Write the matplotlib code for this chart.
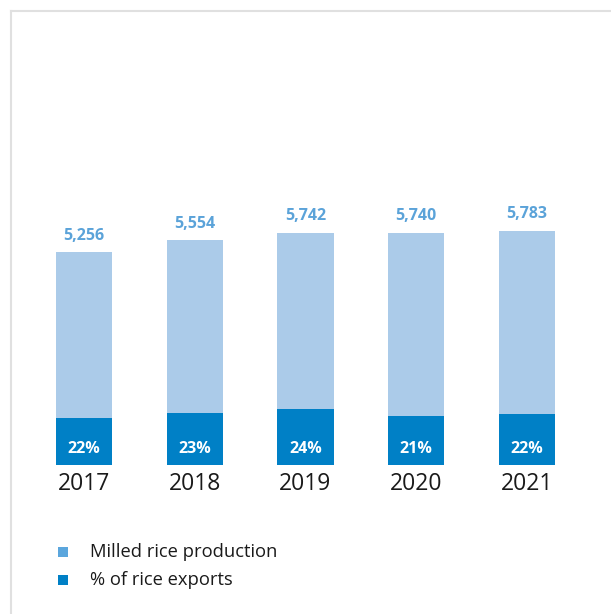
import matplotlib
matplotlib.use("Agg")
import matplotlib.pyplot as plt
from matplotlib.patches import Rectangle
from matplotlib.lines import Line2D

years = ["2017", "2018", "2019", "2020", "2021"]
production = [5256, 5554, 5742, 5740, 5783]
export_pct = [22, 23, 24, 21, 22]
legend_labels = ["Milled rice production", "% of rice exports"]

LIGHT = "#abcbe9"
DARK = "#0080c6"
LABEL = "#5ba3d9"
LEG_LIGHT = "#5ba6dd"

plt.rcParams['font.family'] = ['Open Sans', 'DejaVu Sans']

W, H = 611, 614
fig = plt.figure(figsize=(W / 100, H / 100), dpi=100)
fig.patch.set_facecolor("white")

def fx(px):
    return px / W

def fy(py):
    return 1 - py / H

unit = 110.75
left = 84 - unit / 2
ax = fig.add_axes([fx(left), fy(465), fx(unit * 5), (465 - 182) / H])
ymax = 283 / (234 / 5783)
ax.set_xlim(-0.5, 4.5)
ax.set_ylim(0, ymax)

x = list(range(len(years)))
dark_vals = [p * q / 100 for p, q in zip(production, export_pct)]
ax.bar(x, production, width=0.506, color=LIGHT, zorder=2)
ax.bar(x, dark_vals, width=0.506, color=DARK, zorder=3)

for xi, p, q in zip(x, production, export_pct):
    ax.annotate(f"{p:,}", (xi, p), xytext=(0, 12), textcoords="offset points",
                ha="center", va="center", color=LABEL, fontsize=11.5,
                fontweight="bold")
    ax.annotate(f"{q}%", (xi, 0), xytext=(0, 11.5), textcoords="offset points",
                ha="center", va="center", color="white", fontsize=11.5,
                fontweight="bold", zorder=5)

ax.set_xticks(x)
ax.set_xticklabels(years, fontsize=16.5, color="#1a1a1a")
ax.tick_params(axis="x", length=0, pad=5)
ax.set_yticks([])
for s in ax.spines.values():
    s.set_visible(False)
ax.patch.set_alpha(0)

# legend
for i, (lab, col) in enumerate(zip(legend_labels, [LEG_LIGHT, DARK])):
    cy = 552 + i * 28
    fig.add_artist(Rectangle((fx(58), fy(cy + 5)), fx(10), 10 / H,
                             transform=fig.transFigure, color=col, lw=0))
    fig.text(fx(90), fy(cy), lab, ha="left", va="center", fontsize=13.2,
             color="#1a1a1a")

# border
fig.add_artist(Line2D([fx(11), 1], [fy(11), fy(11)], transform=fig.transFigure,
                      color="#e0e0e0", lw=1.5))
fig.add_artist(Line2D([fx(11), fx(11)], [fy(11), 0], transform=fig.transFigure,
                      color="#e0e0e0", lw=1.5))

fig.savefig("out.png", dpi=100, facecolor="white")
